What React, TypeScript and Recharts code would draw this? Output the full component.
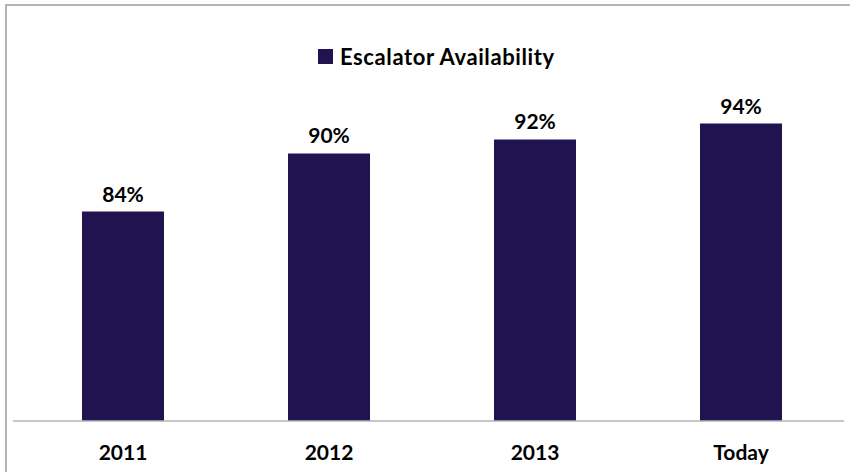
import { BarChart, Bar, XAxis, YAxis, Legend, LabelList } from "recharts";

const years = ["2011", "2012", "2013", "Today"];
const availability = [83.8, 90.4, 92.0, 93.8];
const seriesName = "Escalator Availability";

const BAR = "#20134F";
const FONT = "Lato, 'Open Sans', sans-serif";

const data = years.map((y, i) => ({ year: y, value: availability[i] }));

function YearTick(props: any) {
  const { x, y, payload } = props;
  return (
    <text
      x={x}
      y={y + 39}
      textAnchor="middle"
      fontFamily={FONT}
      fontWeight={700}
      fontSize={21}
      fill="#000"
    >
      {payload.value}
    </text>
  );
}

function LegendBox() {
  return (
    <div
      style={{
        display: "flex",
        alignItems: "center",
        fontFamily: FONT,
        fontWeight: 700,
        fontSize: 22,
        letterSpacing: 0.6,
        color: "#000",
        whiteSpace: "nowrap",
      }}
    >
      <span
        style={{
          width: 15,
          height: 15,
          background: BAR,
          display: "inline-block",
          marginRight: 7,
        }}
      />
      {seriesName}
    </div>
  );
}

export default function App() {
  return (
    <div
      style={{
        position: "fixed",
        left: 0,
        top: 0,
        width: 850,
        height: 472,
        overflow: "hidden",
        background: "#fff",
      }}
    >
      <div
        style={{
          position: "absolute",
          left: 5,
          top: 4,
          width: 900,
          height: 520,
          border: "2px solid #B5B5B5",
        }}
      />
      <BarChart
        width={850}
        height={472}
        data={data}
        margin={{ top: 69, right: 6, left: 13, bottom: 0 }}
        barSize={82}
      >
        <YAxis hide domain={[60, 100]} />
        <XAxis
          dataKey="year"
          height={51}
          padding={{ left: 7, right: 0 }}
          axisLine={{ stroke: "#B5B5B5", strokeWidth: 1.5 }}
          tickLine={false}
          tickSize={0}
          tickMargin={0}
          tick={<YearTick />}
          interval={0}
        />
        <Legend
          layout="horizontal"
          verticalAlign="middle"
          content={<LegendBox />}
          wrapperStyle={{ position: "absolute", left: 318, top: 43, width: "auto" }}
        />
        <Bar dataKey="value" name={seriesName} fill={BAR} isAnimationActive={false}>
          <LabelList
            dataKey="value"
            position="top"
            offset={10}
            formatter={(v: any) => `${Math.round(v)}%`}
            style={{ fontFamily: FONT, fontWeight: 700, fontSize: 21, fill: "#000" }}
          />
        </Bar>
      </BarChart>
    </div>
  );
}
